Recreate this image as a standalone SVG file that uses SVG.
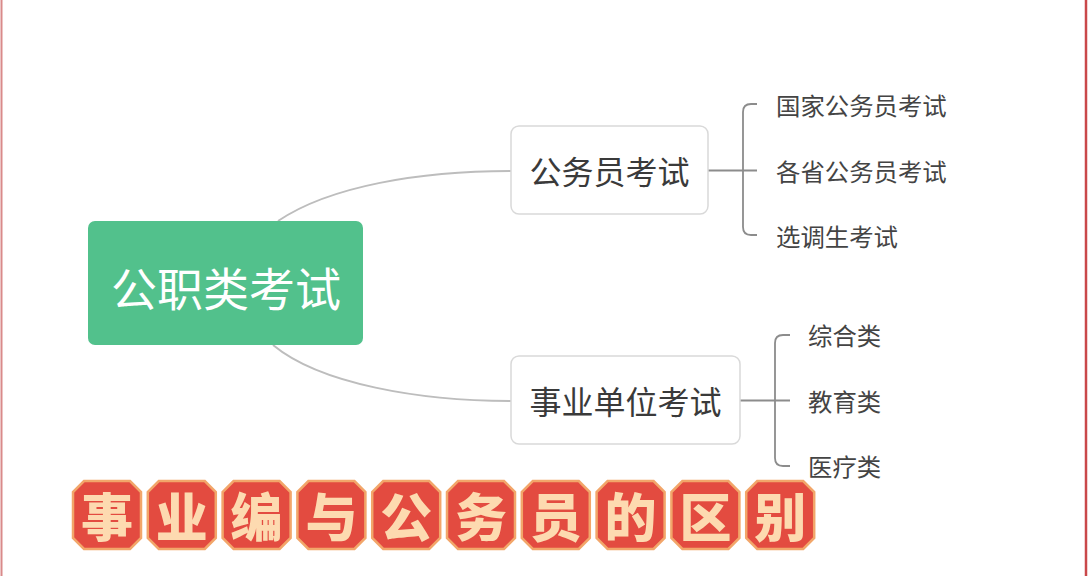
<svg xmlns="http://www.w3.org/2000/svg" width="1089" height="576" viewBox="0 0 1089 576">
<style>
.cn{font-family:"Noto Sans CJK SC","Noto Sans",sans-serif}
.box{fill:#fff;stroke:#d9d9d9;stroke-width:1.5}
.t1{font-size:32px;fill:#3a3a3a;text-anchor:middle;dominant-baseline:central}
.leaf{font-size:24.4px;fill:#444;dominant-baseline:central}
.conn{fill:none;stroke:#bdbdbd;stroke-width:2}
.br{fill:none;stroke:#8c8c8c;stroke-width:1.8}
.tile{fill:#E34B40;stroke:#F2A66A;stroke-width:2.5}
.tt{font-size:52px;font-weight:900;fill:#FDDAB0;text-anchor:middle;dominant-baseline:central}
</style>
<defs>
<polygon id="oct" points="11,0 57,0 68,11 68,57 57,68 11,68 0,57 0,11"/>
</defs>
<rect x="0" y="0" width="1089" height="576" fill="#fff"/>
<line x1="1.5" y1="0" x2="1.5" y2="576" stroke="#d98a8a" stroke-width="2"/>
<line x1="1086" y1="0" x2="1086" y2="576" stroke="#c9484a" stroke-width="2.5"/>
<g id="connectors">
<path class="conn" d="M278,221 C330,186 420,171 511,171"/>
<path class="conn" d="M273,345 C320,384 420,401 511,401"/>
<path class="br" d="M708,170.5 H757 M757,104 H751 Q743,104 743,112 V227 Q743,235 751,235 H757"/>
<path class="br" d="M740,400.5 H790 M790,335 H783 Q775,335 775,343 V458 Q775,466 783,466 H790"/>
</g>
<g id="root">
<rect x="88" y="221" width="275" height="124" rx="7" fill="#52C18C"/>
<text class="cn" x="226" y="286" font-size="46" fill="#fff" text-anchor="middle" dominant-baseline="central">公职类考试</text>
</g>
<g id="n-gwy">
<rect class="box" x="511" y="126" width="197" height="88" rx="8"/>
<text class="cn t1" x="609.5" y="170">公务员考试</text>
</g>
<g id="n-sydw">
<rect class="box" x="511" y="356" width="229" height="88" rx="8"/>
<text class="cn t1" x="625.5" y="400">事业单位考试</text>
</g>
<g id="l1"><text class="cn leaf" x="776" y="104">国家公务员考试</text></g>
<g id="l2"><text class="cn leaf" x="776" y="170">各省公务员考试</text></g>
<g id="l3"><text class="cn leaf" x="776" y="235">选调生考试</text></g>
<g id="l4"><text class="cn leaf" x="808" y="334">综合类</text></g>
<g id="l5"><text class="cn leaf" x="808" y="400">教育类</text></g>
<g id="l6"><text class="cn leaf" x="808" y="465">医疗类</text></g>
<g id="banner">
<use href="#oct" class="tile" x="73" y="481"/>
<use href="#oct" class="tile" x="147.8" y="481"/>
<use href="#oct" class="tile" x="222.6" y="481"/>
<use href="#oct" class="tile" x="297.4" y="481"/>
<use href="#oct" class="tile" x="372.2" y="481"/>
<use href="#oct" class="tile" x="447" y="481"/>
<use href="#oct" class="tile" x="521.8" y="481"/>
<use href="#oct" class="tile" x="596.6" y="481"/>
<use href="#oct" class="tile" x="671.4" y="481"/>
<use href="#oct" class="tile" x="746.2" y="481"/>
<text class="cn tt" x="107" y="514">事</text>
<text class="cn tt" x="181.8" y="514">业</text>
<text class="cn tt" x="256.6" y="514">编</text>
<text class="cn tt" x="331.4" y="514">与</text>
<text class="cn tt" x="406.2" y="514">公</text>
<text class="cn tt" x="481" y="514">务</text>
<text class="cn tt" x="555.8" y="514">员</text>
<text class="cn tt" x="630.6" y="514">的</text>
<text class="cn tt" x="705.4" y="514">区</text>
<text class="cn tt" x="780.2" y="514">别</text>
</g>
</svg>
